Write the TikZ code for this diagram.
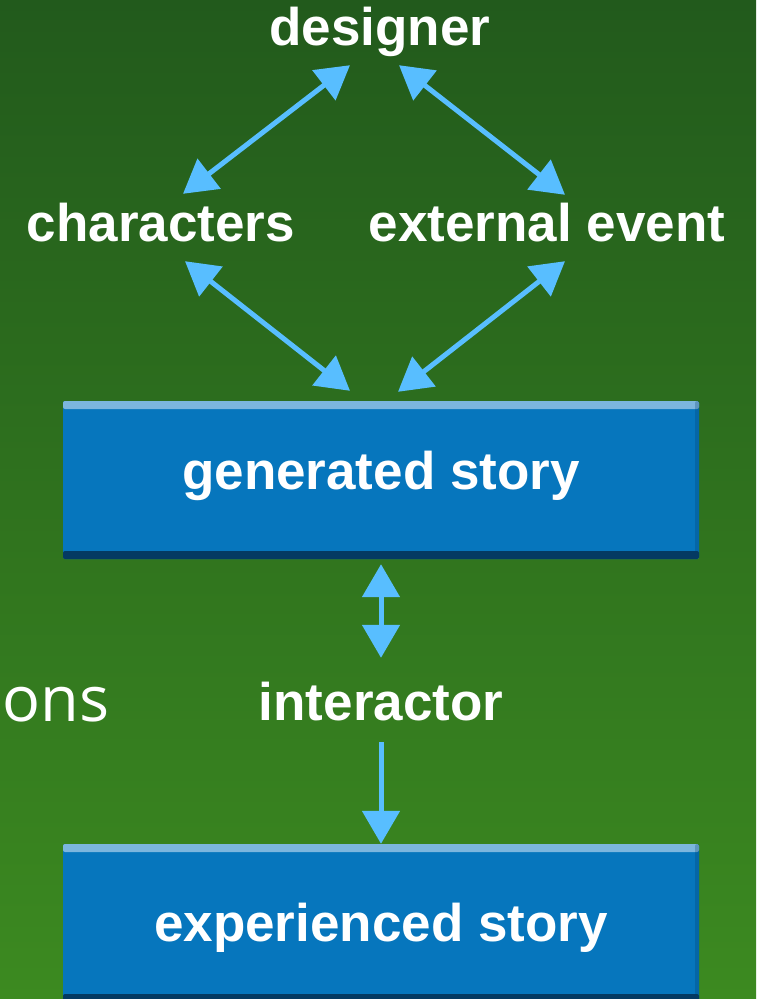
\documentclass[tikz,border=0pt]{standalone}
\usepackage{fontspec}
\setmainfont{Liberation Sans}
\newfontfamily\opensans{Open Sans}
\usetikzlibrary{arrows.meta}
\definecolor{bg-top}{RGB}{34,90,28}
\definecolor{bg-bottom}{RGB}{60,138,32}
\definecolor{story-blue}{RGB}{6,118,189}
\definecolor{story-top}{RGB}{124,182,222}
\definecolor{story-bottom}{RGB}{4,58,98}
\definecolor{link-blue}{RGB}{88,190,255}
\tikzset{
    story-box/.style = {rectangle, fill=story-blue, rounded corners=2pt, minimum width=636pt, minimum height=158pt, inner sep=0pt, text=white, font=\fontsize{53}{60}\selectfont\bfseries, text height=38pt,
        path picture={
            \fill[story-top] (path picture bounding box.north west) rectangle ([yshift=-8pt]path picture bounding box.north east);
            \fill[story-bottom] (path picture bounding box.south west) rectangle ([yshift=8pt]path picture bounding box.south east);
            \fill[story-bottom, opacity=0.25] (path picture bounding box.south east) rectangle ([xshift=-4pt]path picture bounding box.north east);
        }},
    role-label/.style = {text=white, font=\fontsize{53}{60}\selectfont\bfseries, inner sep=0pt, text height=38pt, text depth=11pt, anchor=base},
    link-arrow/.style = {draw=link-blue, line width=5pt},
}

\begin{document}
\begin{tikzpicture}[x=1pt, y=-1pt, >={Triangle[length=33pt,width=37pt]}]
\shade[top color=bg-top, bottom color=bg-bottom] (0,0) rectangle (756,999);
\useasboundingbox (0,0) rectangle (756,999);

\node[role-label] (designer) at (380,45) {designer};
\node[role-label] (characters) at (161,241) {characters};
\node[role-label] (external) at (547,241) {external event};
\node[story-box, text depth=20pt] (generated) at (381,480) {generated story};
\node[role-label] (interactor) at (381,720) {interactor};
\node[text=white, font=\opensans\fontsize{63}{72}\selectfont, anchor=base, inner sep=0pt] (ons) at (56,721) {ons};
\node[story-box, text depth=2pt] (experienced) at (381,923) {experienced story};

\draw[link-arrow, <->] ([shift={(-30,9)}]designer.south) -- ([shift={(22,-9)}]characters.north);
\draw[link-arrow, <->] ([shift={(19,9)}]designer.south) -- ([shift={(18,-8)}]external.north);
\draw[link-arrow, <->] ([shift={(24,9)}]characters.south) -- ([shift={(-31,-10)}]generated.north);
\draw[link-arrow, <->] ([shift={(18,9)}]external.south) -- ([shift={(17,-9)}]generated.north);
\draw[link-arrow, <->] ([shift={(0,5)}]generated.south) -- ([shift={(0,-24)}]interactor.north);
\draw[link-arrow, ->] ([shift={(0,11)}]interactor.south) -- (experienced.north);
\end{tikzpicture}
\end{document}
